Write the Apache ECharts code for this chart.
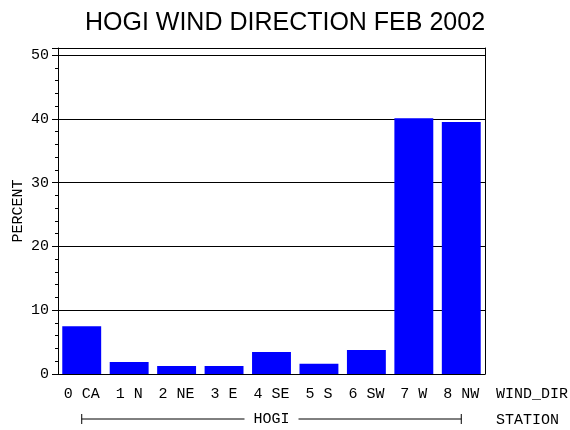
<!DOCTYPE html>
<html>
<head>
<meta charset="utf-8">
<script src="https://cdn.jsdelivr.net/npm/echarts@6/dist/echarts.min.js"></script>
<style>
  html, body { margin: 0; padding: 0; background: #fff; }
  #chart { width: 570px; height: 430px; }
</style>
</head>
<body>
<div id="chart"></div>
<script>
// wind direction bins and percent of hours
var directions = ['0 CA', '1 N', '2 NE', '3 E', '4 SE', '5 S', '6 SW', '7 W', '8 NW'];
var percent = [7.5, 1.9, 1.25, 1.25, 3.45, 1.6, 3.75, 40.1, 39.5];
var yTicks = [0, 10, 20, 30, 40, 50];
var stationName = 'HOGI';

var mono = 'Liberation Mono';
var chart = echarts.init(document.getElementById('chart'));

var option = {
  backgroundColor: '#fff',
  animation: false,
  title: {
    text: 'HOGI WIND DIRECTION FEB 2002',
    left: 'center',
    top: 6,
    textStyle: { fontFamily: 'Liberation Sans', fontSize: 25, fontWeight: 'normal', color: '#000' }
  },
  grid: { left: 58, right: 85, top: 48, bottom: 56, containLabel: false, outerBoundsMode: 'none' },
  xAxis: {
    type: 'category',
    data: directions,
    axisLine: { lineStyle: { color: '#000', width: 1 } },
    axisTick: { show: false },
    axisLabel: { color: '#000', fontFamily: mono, fontSize: 15, margin: 13, interval: 0, hideOverlap: false }
  },
  yAxis: [{
    type: 'value',
    min: 0,
    max: 51.1,
    interval: 10,
    name: 'PERCENT',
    nameLocation: 'middle',
    nameRotate: 90,
    nameGap: 32,
    nameMoveOverlap: false,
    nameTextStyle: { color: '#000', fontFamily: mono, fontSize: 15 },
    axisLine: { show: true, lineStyle: { color: '#000' } },
    axisTick: { show: true, length: 6, lineStyle: { color: '#000' } },
    minorTick: { show: true, splitNumber: 5, length: 3, lineStyle: { color: '#000' } },
    splitLine: { show: true, lineStyle: { color: '#000', width: 1 } },
    axisLabel: {
      color: '#000', fontFamily: mono, fontSize: 15, margin: 9,
      formatter: function (v) { return yTicks.indexOf(v) >= 0 ? String(v) : ''; }
    }
  }, {
    type: 'value',
    position: 'right',
    min: 0,
    max: 51.1,
    axisLine: { show: true, lineStyle: { color: '#000' } },
    axisTick: { show: false },
    axisLabel: { show: false },
    splitLine: { show: false }
  }],
  series: [{
    type: 'bar',
    data: percent,
    barCategoryGap: '18%',
    itemStyle: { color: '#0000ff' }
  }]
};
chart.setOption(option);

// station bracket under the category labels
var x0 = chart.convertToPixel({ xAxisIndex: 0 }, directions[0]);
var x1 = chart.convertToPixel({ xAxisIndex: 0 }, directions[directions.length - 1]);
var xm = (x0 + x1) / 2;
var by = 419;
var lbl = { fontFamily: mono, fontSize: 15, fill: '#000' };
chart.setOption({
  graphic: [
    { type: 'line', shape: { x1: x0, y1: by, x2: xm - 27, y2: by }, style: { stroke: '#000' } },
    { type: 'line', shape: { x1: xm + 27, y1: by, x2: x1, y2: by }, style: { stroke: '#000' } },
    { type: 'line', shape: { x1: x0, y1: by - 5, x2: x0, y2: by + 5 }, style: { stroke: '#000' } },
    { type: 'line', shape: { x1: x1, y1: by - 5, x2: x1, y2: by + 5 }, style: { stroke: '#000' } },
    { type: 'text', x: xm, y: by, style: Object.assign({ text: stationName, align: 'center', verticalAlign: 'middle' }, lbl) },
    { type: 'text', x: 496, y: 394, style: Object.assign({ text: 'WIND_DIR', align: 'left', verticalAlign: 'middle' }, lbl) },
    { type: 'text', x: 496, y: 420, style: Object.assign({ text: 'STATION', align: 'left', verticalAlign: 'middle' }, lbl) }
  ]
});
</script>
</body>
</html>
